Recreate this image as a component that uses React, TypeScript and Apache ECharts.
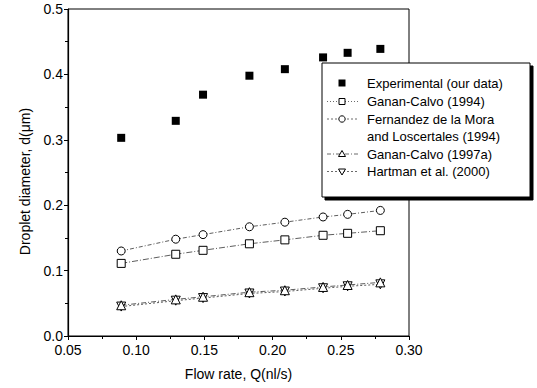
import React, { useEffect, useRef } from "react";
import * as echarts from "echarts";

const flowRate = [0.089, 0.129, 0.149, 0.183, 0.209, 0.237, 0.255, 0.279];
const experimental = [0.303, 0.329, 0.369, 0.398, 0.408, 0.426, 0.433, 0.439];
const gananCalvo1994 = [0.111, 0.125, 0.131, 0.141, 0.147, 0.154, 0.157, 0.161];
const fernandez1994 = [0.13, 0.148, 0.155, 0.167, 0.174, 0.182, 0.186, 0.192];
const gananCalvo1997a = [0.047, 0.056, 0.06, 0.067, 0.07, 0.075, 0.078, 0.082];
const hartman2000 = [0.045, 0.054, 0.058, 0.065, 0.068, 0.073, 0.076, 0.079];

const xTicks = ["0.05", "0.10", "0.15", "0.20", "0.25", "0.30"];
const yTicks = ["0.0", "0.1", "0.2", "0.3", "0.4", "0.5"];

const seriesNames = [
  "Experimental (our data)",
  "Ganan-Calvo (1994)",
  "Fernandez de la Mora",
  "Ganan-Calvo (1997a)",
  "Hartman et al. (2000)",
];

const FONT = "Liberation Sans, Arial, sans-serif";

const pairs = (ys: number[]) => flowRate.map((x, i) => [x, ys[i]]);

export default function App() {
  const ref = useRef<HTMLDivElement>(null);
  useEffect(() => {
    if (!ref.current) return;
    const chart = echarts.init(ref.current, null, { renderer: "svg" });

    const lineStyleBase = { color: "#333", width: 0.8 };
    const open = { color: "#fff", borderColor: "#000", borderWidth: 1, opacity: 1 };

    // legend (graphic)
    const lx = 342;
    const tx = 367;
    const rows = [83, 101.5, 119, 136.5, 154, 171.5];
    const legendEls: any[] = [
      {
        type: "rect",
        shape: { x: 322, y: 63, width: 208, height: 134 },
        style: {
          fill: "#fff",
          stroke: "#000",
          lineWidth: 1,
          shadowColor: "#000",
          shadowOffsetX: 3,
          shadowOffsetY: 3,
          shadowBlur: 0,
        },
        z: 10,
      },
    ];
    const texts = [
      seriesNames[0],
      seriesNames[1],
      seriesNames[2],
      "and Loscertales (1994)",
      seriesNames[3],
      seriesNames[4],
    ];
    texts.forEach((t, i) => {
      legendEls.push({
        type: "text",
        x: tx,
        y: rows[i],
        z: 11,
        style: {
          text: t,
          font: `13px ${FONT}`,
          fill: "#000",
          textVerticalAlign: "middle",
          verticalAlign: "middle",
        },
      });
    });
    const lineDash = [null, [1, 2], [2, 2], null, [4, 2, 1, 2], [2, 2]];
    [1, 2, 4, 5].forEach((ri) => {
      legendEls.push({
        type: "line",
        z: 11,
        shape: { x1: 327, y1: rows[ri], x2: 358, y2: rows[ri] },
        style: { stroke: "#444", lineWidth: 0.8, lineDash: lineDash[ri] },
      });
    });
    // symbols
    legendEls.push({
      type: "rect",
      z: 12,
      shape: { x: lx - 3.5, y: rows[0] - 3.5, width: 7, height: 7 },
      style: { fill: "#000" },
    });
    legendEls.push({
      type: "rect",
      z: 12,
      shape: { x: lx - 3, y: rows[1] - 3, width: 6, height: 6 },
      style: { fill: "#fff", stroke: "#000", lineWidth: 1 },
    });
    legendEls.push({
      type: "circle",
      z: 12,
      shape: { cx: lx, cy: rows[2], r: 3.2 },
      style: { fill: "#fff", stroke: "#000", lineWidth: 1 },
    });
    legendEls.push({
      type: "polygon",
      z: 12,
      shape: { points: [[lx, rows[4] - 3.5], [lx + 3.5, rows[4] + 2.5], [lx - 3.5, rows[4] + 2.5]] },
      style: { fill: "#fff", stroke: "#000", lineWidth: 1 },
    });
    legendEls.push({
      type: "polygon",
      z: 12,
      shape: { points: [[lx, rows[5] + 3.5], [lx + 3.5, rows[5] - 2.5], [lx - 3.5, rows[5] - 2.5]] },
      style: { fill: "#fff", stroke: "#000", lineWidth: 1 },
    });

    chart.setOption({
      animation: false,
      backgroundColor: "#fff",
      textStyle: { fontFamily: FONT, color: "#000" },
      grid: {
        left: 68,
        right: 128,
        top: 9,
        bottom: 52,
        show: true,
        borderColor: "#000",
        borderWidth: 1,
        outerBoundsMode: "none",
        containLabel: false,
      },
      xAxis: {
        type: "value",
        min: 0.05,
        max: 0.3,
        interval: 0.05,
        name: "Flow rate, Q(nl/s)",
        nameLocation: "middle",
        nameGap: 31,
        nameTextStyle: { fontSize: 14, fontFamily: FONT, color: "#000" },
        axisLine: { show: true, onZero: false, lineStyle: { color: "#000", width: 1.2 } },
        axisTick: { show: true, length: 4, inside: false, lineStyle: { color: "#000" } },
        minorTick: { show: true, splitNumber: 2, length: 3, lineStyle: { color: "#000" } },
        splitLine: { show: false },
        axisLabel: {
          fontSize: 14,
          fontFamily: FONT,
          color: "#000",
          margin: 7,
          formatter: (v: number) => {
            const idx = Math.round((v - 0.05) / 0.05);
            return xTicks[idx] ?? "";
          },
        },
      },
      yAxis: {
        type: "value",
        min: 0,
        max: 0.5,
        interval: 0.1,
        name: "Droplet diameter, d(\u03bcm)",
        nameLocation: "middle",
        nameGap: 36,
        nameRotate: 90,
        nameTextStyle: {
          fontSize: 14,
          fontFamily: FONT,
          color: "#000",
          padding: [0, 18, 0, 0],
        },
        axisLine: { show: true, onZero: false, lineStyle: { color: "#000", width: 1.2 } },
        axisTick: { show: true, length: 4, inside: false, lineStyle: { color: "#000" } },
        minorTick: { show: true, splitNumber: 2, length: 3, lineStyle: { color: "#000" } },
        splitLine: { show: false },
        axisLabel: {
          fontSize: 14,
          fontFamily: FONT,
          color: "#000",
          margin: 5,
          formatter: (v: number) => {
            const idx = Math.round(v / 0.1);
            return yTicks[idx] ?? "";
          },
        },
      },
      series: [
        {
          name: seriesNames[4],
          type: "line",
          data: pairs(hartman2000),
          symbol: "triangle",
          symbolRotate: 180,
          symbolSize: 9,
          lineStyle: { ...lineStyleBase, type: [2, 2] },
          itemStyle: open,
          z: 2,
        },
        {
          name: seriesNames[3],
          type: "line",
          data: pairs(gananCalvo1997a),
          symbol: "triangle",
          symbolSize: 9,
          lineStyle: { ...lineStyleBase, type: [5, 2, 1, 2] },
          itemStyle: open,
          z: 3,
        },
        {
          name: seriesNames[2],
          type: "line",
          data: pairs(fernandez1994),
          symbol: "circle",
          symbolSize: 8,
          lineStyle: { ...lineStyleBase, type: [4, 2, 1, 2] },
          itemStyle: open,
          z: 3,
        },
        {
          name: seriesNames[1],
          type: "line",
          data: pairs(gananCalvo1994),
          symbol: "rect",
          symbolSize: 8,
          lineStyle: { ...lineStyleBase, type: [6, 2, 1, 2] },
          itemStyle: open,
          z: 3,
        },
        {
          name: seriesNames[0],
          type: "scatter",
          data: pairs(experimental),
          symbol: "rect",
          symbolSize: 8,
          itemStyle: { color: "#000", opacity: 1 },
          z: 4,
        },
      ],
      graphic: legendEls,
    });
    return () => chart.dispose();
  }, []);
  return (
    <div
      ref={ref}
      style={{ position: "fixed", left: 0, top: 0, width: 537, height: 388 }}
    />
  );
}
